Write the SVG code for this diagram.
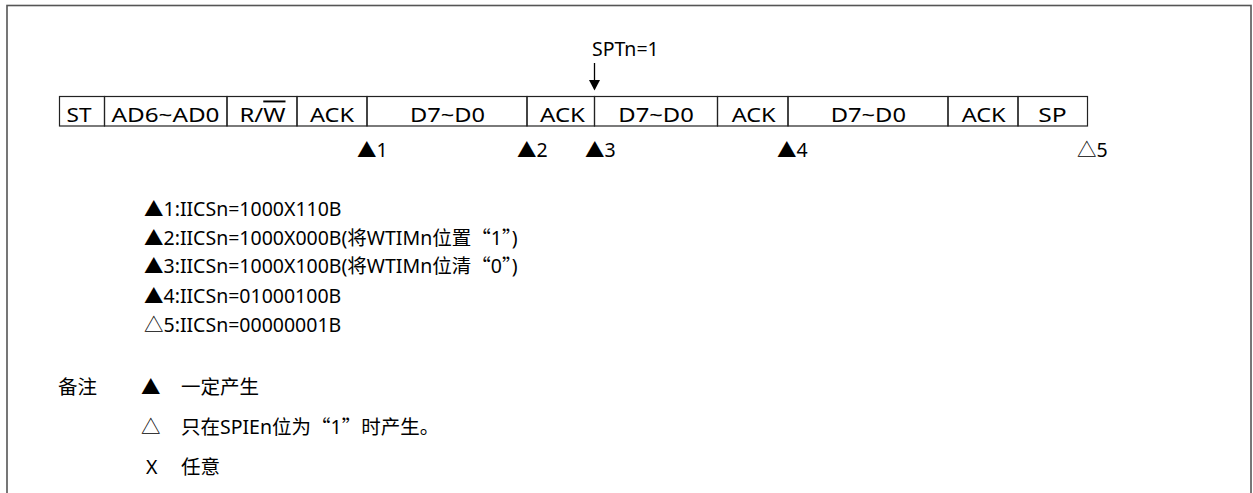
<svg xmlns="http://www.w3.org/2000/svg" width="1253" height="493" viewBox="0 0 1253 493">
<style>
.t{font-family:"Noto Sans","Noto Sans CJK SC",sans-serif;font-size:19.5px;fill:#000}
.b{font-family:"Noto Sans","Noto Sans CJK SC",sans-serif;font-size:19px;fill:#000}
.c{font-family:"Noto Sans CJK SC",sans-serif}
.box{fill:none;stroke:#222;stroke-width:1.2}
</style>
<rect x="7" y="5.5" width="1244" height="520" fill="#fff" stroke="#555" stroke-width="1.6"/>
<g id="frame-row">
<g id="n-st"><rect class="box" x="59.5" y="96.5" width="45" height="29.5"/><text class="b" x="66.5" y="121.5" textLength="25" lengthAdjust="spacingAndGlyphs">ST</text></g>
<g id="n-ad"><rect class="box" x="104.5" y="96.5" width="122.5" height="29.5"/><text class="b" x="111.5" y="121.5" textLength="108" lengthAdjust="spacingAndGlyphs">AD6~AD0</text></g>
<g id="n-rw"><rect class="box" x="227" y="96.5" width="70" height="29.5"/><text class="b" x="239.5" y="121.5" textLength="46" lengthAdjust="spacingAndGlyphs">R/<tspan text-decoration="overline">W</tspan></text></g>
<g id="n-ack1"><rect class="box" x="297" y="96.5" width="70" height="29.5"/><text class="b" x="310" y="121.5" textLength="44" lengthAdjust="spacingAndGlyphs">ACK</text></g>
<g id="n-d1"><rect class="box" x="367" y="96.5" width="160" height="29.5"/><text class="b" x="410" y="121.5" textLength="75" lengthAdjust="spacingAndGlyphs">D7~D0</text></g>
<g id="n-ack2"><rect class="box" x="527" y="96.5" width="67.5" height="29.5"/><text class="b" x="540" y="121.5" textLength="45" lengthAdjust="spacingAndGlyphs">ACK</text></g>
<g id="n-d2"><rect class="box" x="594.5" y="96.5" width="123" height="29.5"/><text class="b" x="618.3" y="121.5" textLength="75.5" lengthAdjust="spacingAndGlyphs">D7~D0</text></g>
<g id="n-ack3"><rect class="box" x="717.5" y="96.5" width="70.5" height="29.5"/><text class="b" x="731.7" y="121.5" textLength="44" lengthAdjust="spacingAndGlyphs">ACK</text></g>
<g id="n-d3"><rect class="box" x="788" y="96.5" width="160" height="29.5"/><text class="b" x="830.7" y="121.5" textLength="75.3" lengthAdjust="spacingAndGlyphs">D7~D0</text></g>
<g id="n-ack4"><rect class="box" x="948" y="96.5" width="70" height="29.5"/><text class="b" x="961.7" y="121.5" textLength="44" lengthAdjust="spacingAndGlyphs">ACK</text></g>
<g id="n-sp"><rect class="box" x="1018" y="96.5" width="69.5" height="29.5"/><text class="b" x="1038.3" y="121.5" textLength="28.4" lengthAdjust="spacingAndGlyphs">SP</text></g>
</g>
<g id="spt">
<text class="t" x="592" y="56">SPTn=1</text>
</g>
<g id="connectors">
<line x1="594.5" y1="63" x2="594.5" y2="82" stroke="#000" stroke-width="1.3"/>
<polygon points="589,80 600,80 594.5,90.5" fill="#000"/>
</g>
<g id="markers">
<text class="t" x="357" y="157">▲1</text>
<text class="t" x="517" y="157">▲2</text>
<text class="t" x="585" y="157">▲3</text>
<text class="t" x="777" y="157">▲4</text>
<text class="t" x="1077" y="157">△5</text>
</g>
<g id="legend">
<text class="t" x="144" y="216">▲1:IICSn=1000X110B</text>
<text class="t" x="144" y="244.5">▲2:IICSn=1000X000B(将WTIMn位置<tspan class="c">“</tspan>1<tspan class="c">”</tspan>)</text>
<text class="t" x="144" y="272.5">▲3:IICSn=1000X100B(将WTIMn位清<tspan class="c">“</tspan>0<tspan class="c">”</tspan>)</text>
<text class="t" x="144" y="302.5">▲4:IICSn=01000100B</text>
<text class="t" x="144" y="332">△5:IICSn=00000001B</text>
</g>
<g id="notes">
<text class="t" x="58" y="394">备注</text>
<text class="t" x="141" y="394">▲</text>
<text class="t" x="181" y="394">一定产生</text>
<text class="t" x="141" y="434">△</text>
<text class="t" x="181" y="434">只在SPIEn位为<tspan class="c">“</tspan>1<tspan class="c">”</tspan>时产生。</text>
<text class="t" x="146" y="474">X</text>
<text class="t" x="181" y="474">任意</text>
</g>
</svg>
